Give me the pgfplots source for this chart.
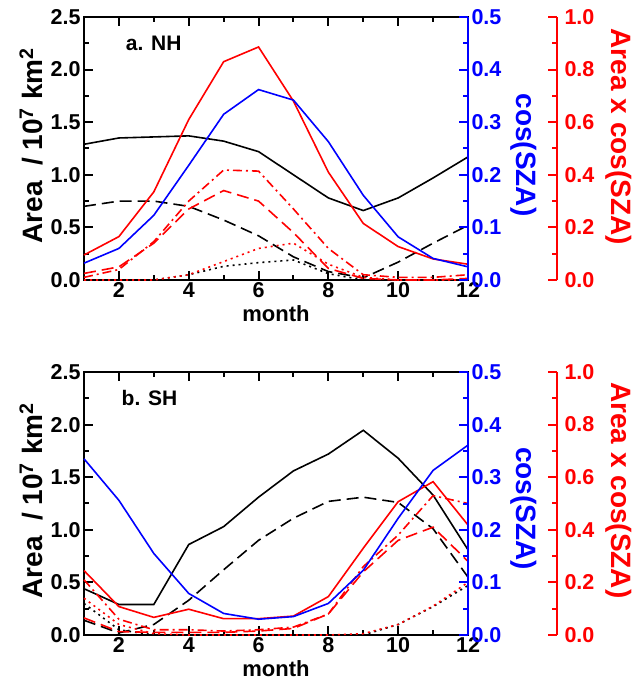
\documentclass[border=0pt]{standalone}
\usepackage{pgfplots}
\pgfplotsset{compat=1.18}
\usepackage{fontspec}
\setmainfont{Liberation Sans}

\pgfplotsset{
 base/.style={scale only axis, width=384pt, height=263pt, xmin=1, xmax=12, anchor=south west, clip=false,
   tick align=inside, major tick length=9pt, minor tick length=5pt,
   /pgf/number format/assume math mode=true,
   ticklabel style={font=\bfseries\fontsize{21.5}{21.5}\selectfont},
   every axis plot/.append style={line width=1.6pt},
   yticklabel style={/pgf/number format/fixed, /pgf/number format/fixed zerofill, /pgf/number format/precision=1},
 },
 mainax/.style={base, ymin=0, ymax=2.5,
   axis line style={line width=2.5pt},
   xtick={2,4,6,8,10,12}, minor xtick={1,3,5,7,9,11},
   ytick={0,0.5,1,1.5,2,2.5}, minor ytick={0.25,0.75,1.25,1.75,2.25},
   xtick pos=both, xticklabel pos=lower, ytick pos=left,
   xticklabel style={yshift=1pt},
   every tick/.style={line width=2pt, black},
   xlabel={month}, ylabel={Area~~/ 10\textsuperscript{7} km\textsuperscript{2}},
   every axis x label/.style={at={(axis description cs:0.5,-0.127)}, anchor=center, font=\bfseries\fontsize{22}{22}\selectfont},
   every axis y label/.style={at={(axis description cs:-0.138,0.51)}, anchor=center, rotate=90, font=\bfseries\fontsize{28}{28}\selectfont},
 },
 blueax/.style={base, ymin=0, ymax=0.5, hide x axis, axis y line*=right,
   axis line style={blue, line width=2.5pt, -},
   ytick={0,0.1,0.2,0.3,0.4,0.5}, minor ytick={0.05,0.15,0.25,0.35,0.45},
   every tick/.style={line width=2pt, blue},
   yticklabel style={text=blue},
   ylabel={cos(SZA)},
   every axis y label/.style={at={(axis description cs:1.144,0.475)}, anchor=center, rotate=-90, text=blue, font=\bfseries\fontsize{28}{28}\selectfont},
 },
 redplot/.style={base, ymin=0, ymax=1, hide axis},
 redax/.style={base, ymin=0, ymax=1, hide x axis, axis y line*=right,
   axis line style={red, line width=2.5pt, -},
   ytick={0,0.2,0.4,0.6,0.8,1.0}, minor ytick={0.1,0.3,0.5,0.7,0.9},
   every tick/.style={line width=2pt, red},
   yticklabel style={text=red, xshift=4pt},
   ylabel={Area x cos(SZA)},
   every axis y label/.style={at={(axis description cs:1.162,0.544)}, anchor=center, rotate=-90, text=red, font=\bfseries\fontsize{28}{28}\selectfont},
 },
 dsh/.style={dash pattern=on 12pt off 6pt},
 dshdot/.style={dash pattern=on 9pt off 4pt on 2pt off 4pt},
 dts/.style={dash pattern=on 2pt off 4pt},
}

\begin{document}
\begin{tikzpicture}[x=1pt,y=1pt]
\useasboundingbox (0,0) rectangle (635,682);

% ================= panel a (NH) =================
\begin{axis}[mainax, at={(84pt,402pt)}]
 \addplot[black] coordinates {(1,1.29)(2,1.35)(3,1.36)(4,1.37)(5,1.32)(6,1.22)(7,1.00)(8,0.78)(9,0.66)(10,0.78)(11,0.97)(12,1.17)};
 \addplot[black,dsh] coordinates {(1,0.70)(2,0.75)(3,0.75)(4,0.70)(5,0.57)(6,0.42)(7,0.22)(8,0.08)(9,0.02)(10,0.17)(11,0.35)(12,0.52)};
 \addplot[black,dts] coordinates {(1,0.00)(2,0.00)(3,0.00)(4,0.05)(5,0.13)(6,0.165)(7,0.19)(8,0.06)(9,0.00)(10,0.00)(11,0.00)(12,0.00)};
 \node[anchor=west, font=\bfseries\fontsize{21}{21}\selectfont] at (axis description cs:0.10,0.90) {a. NH};
\end{axis}
\begin{axis}[redplot, at={(84pt,402pt)}]
 \addplot[red] coordinates {(1,0.095)(2,0.165)(3,0.335)(4,0.61)(5,0.83)(6,0.886)(7,0.68)(8,0.41)(9,0.215)(10,0.127)(11,0.08)(12,0.06)};
 \addplot[red,dshdot] coordinates {(1,0.01)(2,0.04)(3,0.146)(4,0.30)(5,0.418)(6,0.414)(7,0.27)(8,0.12)(9,0.02)(10,0.01)(11,0.01)(12,0.02)};
 \addplot[red,dsh] coordinates {(1,0.025)(2,0.05)(3,0.14)(4,0.27)(5,0.34)(6,0.30)(7,0.18)(8,0.044)(9,0.006)(10,0.0)(11,0.0)(12,0.006)};
 \addplot[red,dts] coordinates {(1,0.0)(2,0.0)(3,0.0)(4,0.02)(5,0.07)(6,0.12)(7,0.14)(8,0.06)(9,0.01)(10,0.0)(11,0.0)(12,0.0)};
\end{axis}
\begin{axis}[blueax, at={(84pt,402pt)}]
 \addplot[blue] coordinates {(1,0.032)(2,0.06)(3,0.123)(4,0.218)(5,0.315)(6,0.362)(7,0.342)(8,0.263)(9,0.161)(10,0.082)(11,0.041)(12,0.025)};
\end{axis}
\begin{axis}[redax, at={(173pt,402pt)}]
 \addplot[draw=none] coordinates {(1,0)};
\end{axis}

% ================= panel b (SH) =================
\begin{axis}[mainax, at={(84pt,47pt)}]
 \addplot[black] coordinates {(1,0.44)(2,0.29)(3,0.29)(4,0.86)(5,1.03)(6,1.31)(7,1.56)(8,1.72)(9,1.946)(10,1.68)(11,1.33)(12,0.81)};
 \addplot[black,dsh] coordinates {(1,0.14)(2,0.02)(3,0.10)(4,0.33)(5,0.62)(6,0.90)(7,1.11)(8,1.27)(9,1.31)(10,1.26)(11,1.01)(12,0.55)};
 \addplot[black,dts] coordinates {(1,0.30)(2,0.05)(3,0.00)(4,0.00)(5,0.00)(6,0.00)(7,0.00)(8,0.00)(9,0.00)(10,0.10)(11,0.27)(12,0.47)};
 \node[anchor=west, font=\bfseries\fontsize{21}{21}\selectfont] at (axis description cs:0.089,0.90) {b. SH};
\end{axis}
\begin{axis}[redplot, at={(84pt,47pt)}]
 \addplot[red] coordinates {(1,0.245)(2,0.108)(3,0.067)(4,0.098)(5,0.062)(6,0.062)(7,0.072)(8,0.146)(9,0.33)(10,0.507)(11,0.583)(12,0.418)};
 \addplot[red,dshdot] coordinates {(1,0.21)(2,0.06)(3,0.02)(4,0.02)(5,0.015)(6,0.02)(7,0.03)(8,0.08)(9,0.26)(10,0.38)(11,0.53)(12,0.50)};
 \addplot[red,dsh] coordinates {(1,0.065)(2,0.013)(3,0.01)(4,0.01)(5,0.01)(6,0.015)(7,0.025)(8,0.08)(9,0.24)(10,0.36)(11,0.41)(12,0.28)};
 \addplot[red,dts] coordinates {(1,0.14)(2,0.04)(3,0.005)(4,0.0)(5,0.0)(6,0.0)(7,0.0)(8,0.0)(9,0.005)(10,0.04)(11,0.11)(12,0.20)};
\end{axis}
\begin{axis}[blueax, at={(84pt,47pt)}, every axis y label/.append style={at={(axis description cs:1.144,0.48)}}]
 \addplot[blue] coordinates {(1,0.335)(2,0.256)(3,0.155)(4,0.079)(5,0.041)(6,0.030)(7,0.035)(8,0.06)(9,0.123)(10,0.222)(11,0.313)(12,0.361)};
\end{axis}
\begin{axis}[redax, at={(173pt,47pt)}, every axis y label/.append style={at={(axis description cs:1.162,0.55)}}]
 \addplot[draw=none] coordinates {(1,0)};
\end{axis}
\end{tikzpicture}
\end{document}
